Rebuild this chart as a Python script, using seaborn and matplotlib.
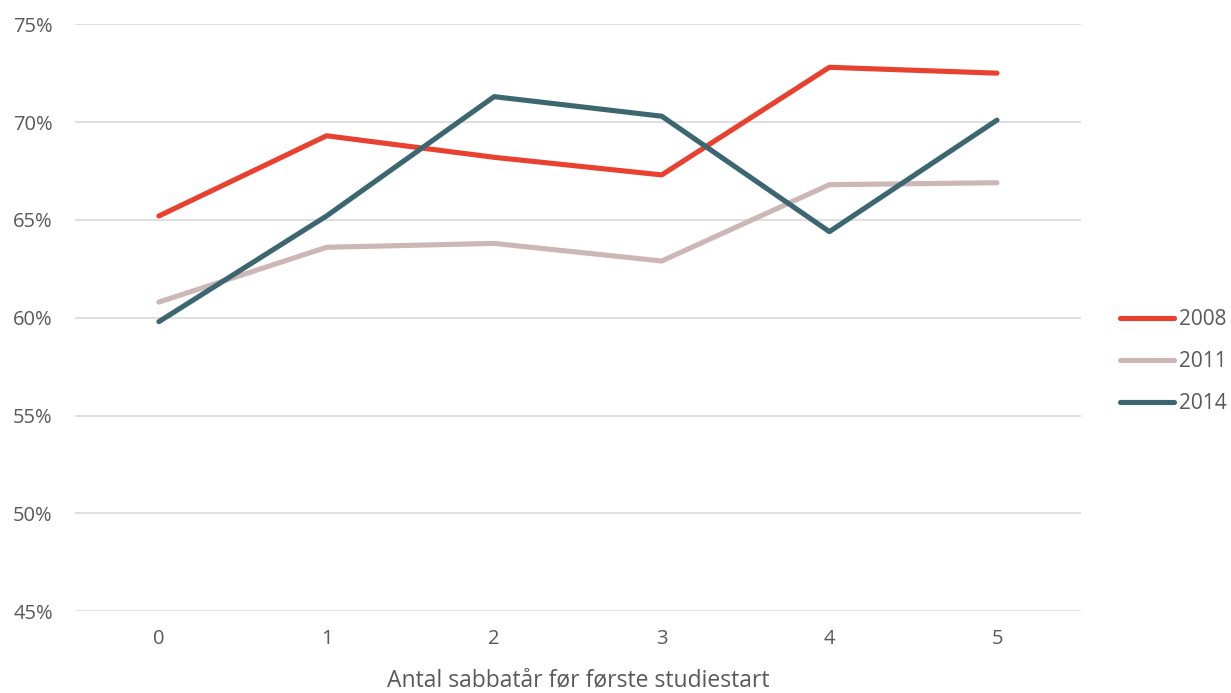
import matplotlib.pyplot as plt
import matplotlib.ticker as mticker
import numpy as np
import pandas as pd
import seaborn as sns

# antal sabbatår
years_off = [0, 1, 2, 3, 4, 5]
share_2008 = [65.2, 69.3, 68.2, 67.3, 72.8, 72.5]
share_2011 = [60.8, 63.6, 63.8, 62.9, 66.8, 66.9]
share_2014 = [59.8, 65.2, 71.3, 70.3, 64.4, 70.1]
series_names = ["2008", "2011", "2014"]
colors = ["#E8412F", "#CDB6B6", "#3D6770"]

df = pd.DataFrame({
    "x": years_off * 3,
    "y": share_2008 + share_2011 + share_2014,
    "year": [n for n in series_names for _ in years_off],
})

sns.set_style("white")
plt.rcParams['font.family'] = ['Open Sans', 'DejaVu Sans']
text_color = "#595959"

fig = plt.figure(figsize=(12.31, 6.93), dpi=100)
ax = fig.add_axes([0.061, 0.118, 0.817, 0.847])

sns.lineplot(data=df, x="x", y="y", hue="year", palette=colors,
             linewidth=3.7, ax=ax, legend=False, solid_capstyle="round")

ax.set_xlim(-0.5, 5.5)
ax.set_ylim(45, 75)
ax.set_yticks(np.arange(45, 76, 5))
ax.yaxis.set_major_formatter(mticker.FuncFormatter(lambda v, p: f"{v:.0f}%"))
ax.set_xticks(years_off)
ax.grid(axis="y", color="#D9D9D9", linewidth=1.2)
ax.set_axisbelow(True)
for s in ax.spines.values():
    s.set_visible(False)
ax.tick_params(axis="both", length=0, labelsize=14.5, labelcolor=text_color)
ax.tick_params(axis="x", pad=13)
ax.tick_params(axis="y", pad=16)
ax.set_xlabel("Antal sabbatår før første studiestart", fontsize=16.5, color=text_color, labelpad=14)
ax.set_ylabel("")

handles = [plt.Line2D([], [], color=c, linewidth=3.7, solid_capstyle="round") for c in colors]
fig.legend(handles, series_names, loc="center left", bbox_to_anchor=(0.910, 0.478),
           frameon=False, fontsize=15, labelcolor=text_color, handlelength=2.6,
           handletextpad=0.2, labelspacing=1.0, borderpad=0, borderaxespad=0)

fig.savefig("out.png", dpi=100)
